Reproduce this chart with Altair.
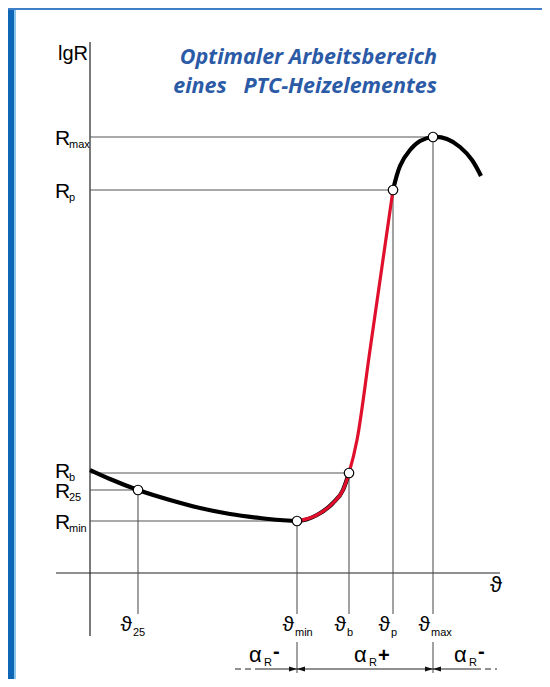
import altair as alt
import pandas as pd

# ---- data (theta / lgR in diagram units, origin at axis crossing) ----
curve_theta = [0, 20, 48, 80, 110, 140, 170, 190, 207, 227, 243, 253, 259, 267, 280, 303,
               310, 320, 330, 343, 357, 370, 382, 391]
curve_lgR = [103, 94, 83, 73, 65, 59, 55, 53, 52, 58, 70, 83, 100, 133, 223, 383,
             407, 423, 432, 436, 434, 426, 413, 397]

point_names = ["25", "min", "b", "p", "max"]
point_theta = [48, 207, 259, 303, 343]
point_lgR = [83, 52, 100, 383, 436]

title_lines = ["Optimaler Arbeitsbereich", "eines\u00a0\u00a0 PTC-Heizelementes"]
alpha_signs = ["-", "+", "-"]

# ---- scales: chart fits inside the 8px page margin on all sides ----
W, H = 534, 671
xs = alt.Scale(domain=[-82, 452], nice=False, zero=False)
ys = alt.Scale(domain=[-106, 565], nice=False, zero=False)


def X(f):
    return alt.X(f"{f}:Q", scale=xs, axis=None)


def Y(f):
    return alt.Y(f"{f}:Q", scale=ys, axis=None)


curve = pd.DataFrame({"t": curve_theta, "r": curve_lgR})
pts = pd.DataFrame({"n": point_names, "t": point_theta, "r": point_lgR})

GUIDE = "#555555"

# frame
frame = [
    alt.Chart(pd.DataFrame({"a": [0]})).mark_rect(color=c).encode(
        x=alt.value(x0), x2=alt.value(x1), y=alt.value(y0), y2=alt.value(y1))
    for c, x0, x1, y0, y1 in [
        ("#0e67b6", 0, 6, 0, H),
        ("#8cc4ea", 6, 8, 0, H),
        ("#3f7fc8", 0, W, 0, 2),
    ]
]

# axes
axes = alt.Chart(pd.DataFrame({"x": [0, -34], "x2": [0, 410], "y": [531, 0], "y2": [-63, 0]})).mark_rule(
    color="#222222", strokeWidth=1.2).encode(x=X("x"), x2="x2:Q", y=Y("y"), y2="y2:Q")

# guides
hguides = alt.Chart(pts).transform_calculate(z="0").mark_rule(color=GUIDE, strokeWidth=1.1).encode(
    x=X("z"), x2="t:Q", y=Y("r"))
vguides = alt.Chart(pts).transform_calculate(b="-41").mark_rule(color=GUIDE, strokeWidth=1.1).encode(
    x=X("t"), y=Y("r"), y2="b:Q")
vlow = alt.Chart(pts).transform_filter("datum.n == 'min' || datum.n == 'max'").transform_calculate(
    a="-69", b="-100").mark_rule(color=GUIDE, strokeWidth=1.1).encode(x=X("t"), y=Y("a"), y2="b:Q")

# curve
base = alt.Chart(curve).encode(x=X("t"), y=Y("r"), order="t:Q")
black1 = base.transform_filter("datum.t <= 259").mark_line(color="black", strokeWidth=4.2, interpolate="monotone")
black2 = base.transform_filter("datum.t >= 303").mark_line(color="black", strokeWidth=4.2, interpolate="natural")
red = base.transform_filter("datum.t >= 207 && datum.t <= 303").mark_line(
    color="#e0102c", strokeWidth=3.2, interpolate="monotone")

points = alt.Chart(pts).mark_point(filled=True, fill="white", stroke="black", strokeWidth=1.2,
                                   size=90, opacity=1).encode(x=X("t"), y=Y("r"))


def txt(df, size, align="left", dx=0, dy=0, font="Liberation Sans", color="black",
        weight="normal", style="normal"):
    return alt.Chart(df).mark_text(align=align, baseline="alphabetic", dx=dx, dy=dy, fontSize=size,
                                   font=font, color=color, fontWeight=weight, fontStyle=style).encode(
        x=X("x"), y=Y("y"), text="s:N")


# R labels
r_nudge = {"b": 3}
r_df = pd.DataFrame({"x": [-35] * 5, "y": [r + r_nudge.get(n, 0) for n, r in zip(point_names, point_lgR)],
                     "s": ["R"] * 5})
r_sub = pd.DataFrame({"x": [-21] * 5, "y": [r + r_nudge.get(n, 0) for n, r in zip(point_names, point_lgR)],
                      "s": point_names})
R_big = txt(r_df, 21, dy=8)
R_small = txt(r_sub, 11, dy=11)

# theta labels
t_nudge = {"25": -3}
th_df = pd.DataFrame({"x": [t - 3 + t_nudge.get(n, 0) for n, t in zip(point_names, point_theta)],
                      "y": [-58] * 5, "s": ["\u03d1"] * 5})
th_sub = pd.DataFrame({"x": [t - 2 + t_nudge.get(n, 0) for n, t in zip(point_names, point_theta)],
                       "y": [-63] * 5, "s": point_names})
TH_big = txt(th_df, 21, align="right")
TH_small = txt(th_sub, 11)

axis_labels = txt(pd.DataFrame({"x": [406], "y": [-19], "s": ["\u03d1"]}), 22, align="center")
lgr = txt(pd.DataFrame({"x": [-2], "y": [513], "s": ["lgR"]}), 20, align="right")

title = txt(pd.DataFrame({"x": [347, 347], "y": [509, 480], "s": title_lines}), 21.5, align="right",
            font="Open Sans", color="#2b5aa6", weight="bold", style="italic")

# alpha range labels
ax0 = [159, 264, 364]
al_big = txt(pd.DataFrame({"x": ax0, "y": [-89] * 3, "s": ["\u03b1"] * 3}), 22)
al_R = txt(pd.DataFrame({"x": [a + 15 for a in ax0], "y": [-93] * 3, "s": ["R"] * 3}), 11)
sign_df = pd.DataFrame({"x": [a + 24 for a in ax0], "y": [-85 if s == "-" else -89 for s in alpha_signs],
                        "s": alpha_signs})
al_sign = txt(sign_df, 20, weight="bold")

# arrow row
solid = alt.Chart(pd.DataFrame({"x": [166, 207, 343], "x2": [207, 343, 385], "y": [-96] * 3})).mark_rule(
    color="#222222", strokeWidth=1.1).encode(x=X("x"), x2="x2:Q", y=Y("y"))
dashed = alt.Chart(pd.DataFrame({"x": [145, 385], "x2": [166, 407], "y": [-96] * 2})).mark_rule(
    color="#222222", strokeWidth=1.1, strokeDash=[6, 4]).encode(x=X("x"), x2="x2:Q", y=Y("y"))
right_head = alt.Chart(pd.DataFrame({"x": [207, 343], "y": [-96, -96]})).mark_point(
    shape="M0,0L-2,-0.6L-2,0.6Z", filled=True, color="#111111", size=64, opacity=1).encode(
    x=X("x"), y=Y("y"))
left_head = alt.Chart(pd.DataFrame({"x": [207, 343], "y": [-96, -96]})).mark_point(
    shape="M0,0L2,-0.6L2,0.6Z", filled=True, color="#111111", size=64, opacity=1).encode(
    x=X("x"), y=Y("y"))

chart = alt.layer(
    *frame, axes, hguides, vguides, vlow, black1, black2, red, points,
    R_big, R_small, TH_big, TH_small, axis_labels, lgr, title,
    al_big, al_R, al_sign, solid, dashed, right_head, left_head,
).properties(
    width=W, height=H, autosize=alt.AutoSizeParams(type="none"), padding=0, background="white"
).configure_view(stroke=None)

chart.save("out.html", embed_options={"renderer": "svg", "actions": False})
